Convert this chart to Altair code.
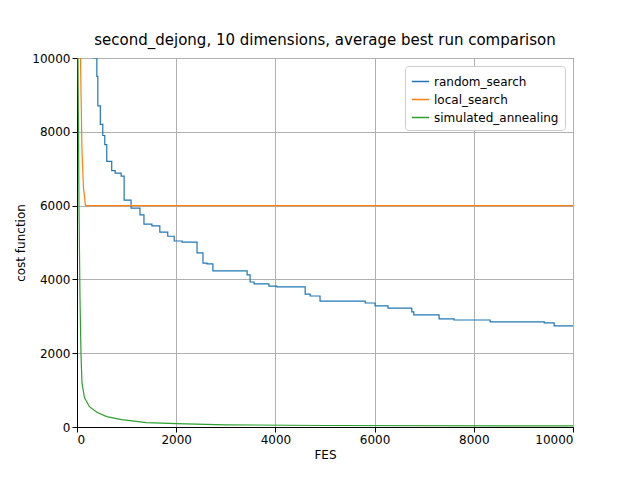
import pandas as pd
import altair as alt

series_names = ["random_search", "local_search", "simulated_annealing"]

rs_fes = [300, 340, 400, 420, 470, 520, 560, 600, 700, 770, 890, 950, 1090, 1270, 1350, 1510,
          1670, 1830, 1960, 2120, 2420, 2540, 2620, 2740, 3430, 3490, 3570, 3870, 4030, 4600,
          4700, 4900, 5810, 6010, 6270, 6750, 6790, 7300, 7600, 8330, 9420, 9620, 10000]
rs_cost = [10600, 10000, 9500, 8700, 8200, 7900, 7650, 7200, 6950, 6880, 6800, 6150, 5930, 5750,
           5500, 5450, 5280, 5170, 5040, 5010, 4720, 4440, 4420, 4230, 4120, 3930, 3880, 3820,
           3800, 3600, 3550, 3410, 3360, 3280, 3220, 3120, 3040, 2930, 2900, 2850, 2820, 2740, 2740]

ls_fes = [50, 70, 100, 130, 170, 10000]
ls_cost = [11000, 10000, 7500, 6500, 6000, 6000]

sa_fes = [10, 20, 40, 60, 80, 100, 150, 250, 400, 600, 900, 1400, 2000, 3000, 5000, 10000]
sa_cost = [11000, 10000, 6000, 3500, 2000, 1200, 800, 550, 400, 280, 200, 120, 90, 60, 40, 30]

colors = ["#1f77b4", "#ff7f0e", "#2ca02c"]

def frame(name, xs, ys):
    return pd.DataFrame({"FES": xs, "cost": ys, "algorithm": name})

color = alt.Color("algorithm:N",
                  scale=alt.Scale(domain=series_names, range=colors),
                  legend=alt.Legend(title=None, orient="top-right", strokeColor="#cccccc",
                                    fillColor="white", padding=6, cornerRadius=3,
                                    labelFontSize=12, symbolType="stroke", symbolSize=300,
                                    offset=8))

ticks = [0, 2000, 4000, 6000, 8000, 10000]
x = alt.X("FES:Q", scale=alt.Scale(domain=[0, 10000], nice=False),
          axis=alt.Axis(values=ticks, format="d", title="FES"))
y = alt.Y("cost:Q", scale=alt.Scale(domain=[0, 10000], nice=False),
          axis=alt.Axis(values=ticks, format="d", title="cost function"))

rs = alt.Chart(frame(series_names[0], rs_fes, rs_cost)).mark_line(
    interpolate="step-after", clip=True, strokeWidth=1.2).encode(x=x, y=y, color=color)
ls = alt.Chart(frame(series_names[1], ls_fes, ls_cost)).mark_line(
    clip=True, strokeWidth=1.2).encode(x=x, y=y, color=color)
sa = alt.Chart(frame(series_names[2], sa_fes, sa_cost)).mark_line(
    clip=True, strokeWidth=1.2).encode(x=x, y=y, color=color)

chart = alt.layer(rs, ls, sa).properties(
    width=496, height=369,
    title="second_dejong, 10 dimensions, average best run comparison",
    autosize=alt.AutoSizeParams(type="none"),
    padding={"left": 69, "top": 50, "right": 59, "bottom": 45},
).configure_view(stroke="black", strokeWidth=1).configure_axis(
    grid=True, gridColor="#b0b0b0", labelFontSize=12, titleFontSize=12,
    titleFontWeight="normal", labelColor="black", titleColor="black",
    domainColor="black", tickColor="black", labelFont="DejaVu Sans", titleFont="DejaVu Sans",
).configure_title(fontSize=15, fontWeight="normal", font="DejaVu Sans", offset=4
).configure_legend(labelFont="DejaVu Sans")

chart.save("out.html", embed_options={"renderer": "svg", "actions": False})
